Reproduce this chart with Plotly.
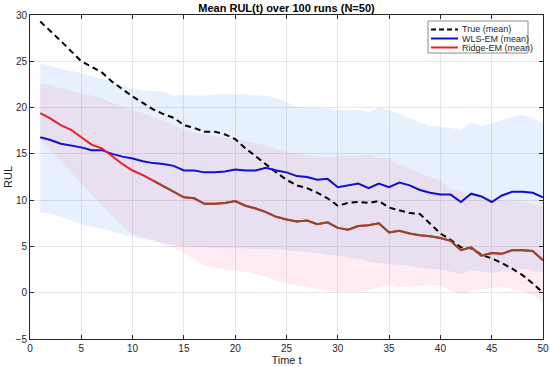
import plotly.graph_objects as go

t = list(range(1, 51))

true_mean = [29.3, 28.3, 27.2, 26.1, 25.0, 24.4, 23.8, 22.8, 22.0, 21.2,
             20.5, 19.8, 19.3, 18.9, 18.1, 17.8, 17.4, 17.4, 17.1, 16.6,
             15.6, 14.7, 13.9, 13.0, 12.2, 11.6, 11.3, 10.8, 10.2, 9.4,
             9.7, 9.8, 9.7, 9.9, 9.2, 8.9, 8.6, 8.5, 7.5, 6.4,
             5.7, 4.9, 4.8, 4.1, 3.7, 3.2, 2.6, 1.9, 1.0, 0.0]

wls_mean = [16.8, 16.5, 16.1, 15.9, 15.7, 15.4, 15.4, 15.0, 14.7, 14.5,
            14.2, 14.0, 13.9, 13.7, 13.2, 13.2, 13.0, 13.0, 13.1, 13.3,
            13.2, 13.2, 13.5, 13.2, 13.0, 12.6, 12.5, 12.2, 12.3, 11.4,
            11.6, 11.8, 11.3, 11.8, 11.4, 11.9, 11.6, 11.1, 10.8, 10.6,
            10.6, 9.8, 10.7, 10.4, 9.8, 10.5, 10.9, 10.9, 10.8, 10.3]

ridge_mean = [19.4, 18.8, 18.1, 17.6, 16.8, 16.0, 15.6, 14.8, 13.9, 13.2,
              12.7, 12.1, 11.5, 10.9, 10.3, 10.2, 9.6, 9.6, 9.7, 9.9,
              9.4, 9.1, 8.7, 8.2, 7.9, 7.7, 7.8, 7.4, 7.6, 7.0,
              6.8, 7.2, 7.3, 7.5, 6.5, 6.7, 6.4, 6.2, 6.1, 5.9,
              5.6, 4.6, 4.9, 4.0, 4.3, 4.2, 4.6, 4.6, 4.5, 3.5]

wls_hi = [24.8, 24.5, 24.2, 24.0, 23.7, 23.4, 23.1, 22.7, 22.4, 22.1,
          21.9, 21.8, 21.7, 21.3, 21.4, 21.3, 21.3, 21.4, 21.5, 21.4,
          21.4, 21.3, 21.3, 21.0, 20.6, 20.1, 20.0, 20.0, 19.9, 19.7,
          19.7, 19.8, 19.5, 20.0, 19.7, 19.4, 18.8, 18.4, 18.0, 17.9,
          17.8, 17.6, 18.4, 18.0, 18.3, 18.6, 19.0, 19.2, 18.9, 18.3]

wls_lo = [8.7, 8.5, 8.2, 7.8, 7.4, 7.1, 6.9, 6.6, 6.3, 6.0,
          5.8, 5.6, 5.4, 5.2, 5.0, 4.9, 4.9, 4.8, 4.8, 4.8,
          4.8, 4.7, 4.7, 4.7, 4.6, 4.5, 4.4, 4.3, 4.1, 4.0,
          3.8, 3.6, 3.4, 3.2, 3.1, 3.0, 2.9, 2.7, 2.6, 2.5,
          2.3, 2.0, 2.4, 2.3, 2.1, 2.3, 2.5, 2.6, 2.4, 2.2]

ridge_hi = [22.6, 22.4, 22.1, 21.8, 21.5, 21.3, 21.0, 20.5, 20.1, 19.7,
            19.4, 19.0, 18.6, 18.1, 17.6, 17.3, 17.1, 16.9, 16.8, 16.6,
            16.4, 16.1, 15.9, 15.5, 15.2, 15.0, 14.8, 14.7, 14.7, 14.7,
            14.8, 14.8, 14.9, 14.6, 14.5, 13.8, 13.4, 12.9, 12.5, 12.1,
            11.2, 10.9, 10.6, 10.3, 10.1, 10.0, 9.9, 9.8, 9.6, 9.3]

ridge_lo = [16.5, 15.4, 14.2, 13.0, 11.8, 10.7, 9.5, 8.3, 7.2, 6.3,
            6.0, 5.7, 5.2, 4.8, 4.3, 3.6, 2.9, 2.7, 2.5, 2.4,
            2.2, 2.0, 1.7, 1.3, 1.0, 0.8, 0.6, 0.4, 0.2, 0.1,
            0.1, 0.1, 0.3, 0.6, 0.8, 0.6, 0.7, 0.7, 0.8, 0.8,
            0.2, -0.1, 0.2, 0.4, 0.5, 0.6, 0.4, 0.2, -0.3, -1.0]

x_ticks = list(range(0, 51, 5))
y_ticks = list(range(-5, 31, 5))

legend_labels = ["True (mean)", "WLS-EM (mean)", "Ridge-EM (mean)"]

FONT = "Liberation Sans, Arial, sans-serif"
AX = "#262626"
C_TRUE, C_WLS, C_RIDGE, C_RIDGE_DARK = "black", "#1010cc", "#ee1c24", "#8e4a2a"

W, H = 550, 367
L, R, T, B = 30, 7, 15, 28
PW, PH = W - L - R, H - T - B


def px(xp):
    return (xp - L) / PW


def py(yp):
    return (H - B - yp) / PH


fig = go.Figure()

# WLS band
fig.add_trace(go.Scatter(x=t, y=wls_lo, mode="lines", line=dict(width=0),
                         showlegend=False, hoverinfo="skip"))
fig.add_trace(go.Scatter(x=t, y=wls_hi, mode="lines", line=dict(width=0),
                         fill="tonexty", fillcolor="rgba(40,130,240,0.11)",
                         showlegend=False, hoverinfo="skip"))
# Ridge band
fig.add_trace(go.Scatter(x=t, y=ridge_lo, mode="lines", line=dict(width=0),
                         showlegend=False, hoverinfo="skip"))
fig.add_trace(go.Scatter(x=t, y=ridge_hi, mode="lines", line=dict(width=0),
                         fill="tonexty", fillcolor="rgba(245,40,110,0.09)",
                         showlegend=False, hoverinfo="skip"))

fig.add_trace(go.Scatter(x=t, y=true_mean, mode="lines", name=legend_labels[0],
                         line=dict(color=C_TRUE, width=2, dash="6px,4px"),
                         showlegend=False))
fig.add_trace(go.Scatter(x=t, y=wls_mean, mode="lines", name=legend_labels[1],
                         line=dict(color=C_WLS, width=2), showlegend=False))
fig.add_trace(go.Scatter(x=t, y=ridge_mean, mode="lines", name=legend_labels[2],
                         line=dict(color=C_RIDGE, width=2), showlegend=False))
# darker rendering of the ridge line from t=12 on
k = 11
fig.add_trace(go.Scatter(x=t[k:], y=ridge_mean[k:], mode="lines",
                         line=dict(color=C_RIDGE_DARK, width=2),
                         showlegend=False, hoverinfo="skip"))

# legend box (drawn in paper coordinates)
shapes = [dict(type="rect", xref="paper", yref="paper",
               x0=px(428), x1=px(528), y0=py(53), y1=py(21),
               line=dict(color="#8c8c8c", width=1), fillcolor="white", layer="above")]
annotations = []
rows_y = [29.5, 38.5, 47.5]
styles = [dict(color=C_TRUE, width=2, dash="5px,3px"),
          dict(color=C_WLS, width=2), dict(color=C_RIDGE, width=2)]
for lab, yy, st in zip(legend_labels, rows_y, styles):
    shapes.append(dict(type="line", xref="paper", yref="paper",
                       x0=px(431), x1=px(458), y0=py(yy), y1=py(yy),
                       line=st, layer="above"))
    annotations.append(dict(text=lab, xref="paper", yref="paper",
                            x=px(460), y=py(yy), xanchor="left", yanchor="middle",
                            showarrow=False,
                            font=dict(family=FONT, size=9, color="#262626")))

fig.update_layout(
    width=W, height=H,
    margin=dict(l=L, r=R, t=T, b=B),
    paper_bgcolor="white", plot_bgcolor="white",
    font=dict(family=FONT, size=10, color=AX),
    title=dict(text="<b>Mean RUL(t) over 100 runs (N=50)</b>",
               font=dict(family=FONT, size=11, color="black"),
               x=(L + W - R) / 2 / W, xanchor="center",
               y=1 - 8 / H, yanchor="middle", yref="container"),
    showlegend=False,
    shapes=shapes, annotations=annotations,
)

fig.update_xaxes(range=[0, 50], tickvals=x_ticks, ticks="inside", ticklen=4,
                 tickcolor=AX, showline=True, linecolor=AX, linewidth=1,
                 mirror="ticks", showgrid=True, gridcolor="#e6e6e6",
                 zeroline=False, automargin=False,
                 title=dict(text="Time t", standoff=0,
                            font=dict(family=FONT, size=11, color=AX)))
fig.update_yaxes(range=[-5, 30], tickvals=y_ticks, ticks="inside", ticklen=4,
                 tickcolor=AX, showline=True, linecolor=AX, linewidth=1,
                 mirror="ticks", showgrid=True, gridcolor="#e6e6e6",
                 zeroline=False, automargin=False,
                 title=dict(text="RUL", standoff=0,
                            font=dict(family=FONT, size=11, color=AX)))

fig.write_html("out.html",
               config={"displayModeBar": False},
               post_script="document.body.style.margin='0';"
                           "document.body.style.padding='0';"
                           "document.body.style.overflow='hidden';")
